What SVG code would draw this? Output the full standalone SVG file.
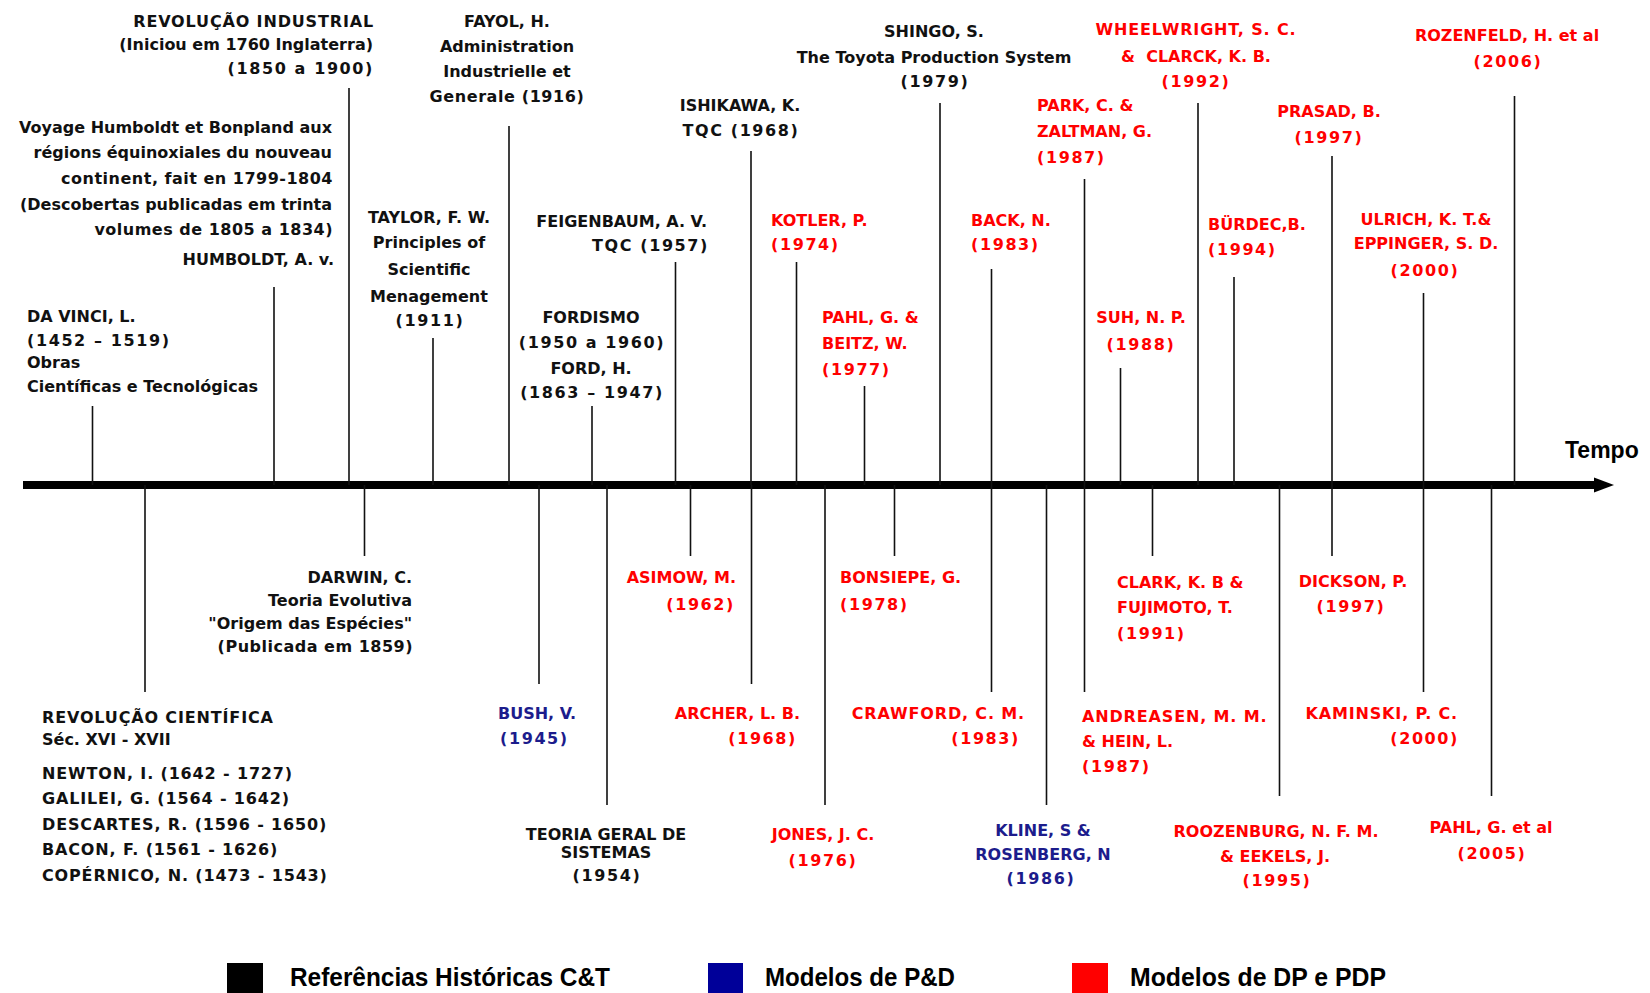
<svg xmlns="http://www.w3.org/2000/svg" width="1650" height="993" viewBox="0 0 1650 993">
<style>
text{font-family:"DejaVu Sans","Liberation Sans",sans-serif;font-size:16px;font-weight:bold;fill:#111}
.r text,text.r{fill:#ff0000}
.b text,text.b{fill:#1c1c8c}
.m{text-anchor:middle}
.e{text-anchor:end}
.y{letter-spacing:1.6px}
.w{letter-spacing:0.85px}
.v{stroke:#111;stroke-width:1.6;fill:none}
text.lg{font-family:"Liberation Sans",Arial,sans-serif;font-size:25px;font-weight:bold;fill:#000}
</style>
<rect width="1650" height="993" fill="#fff"/>
<g id="connectors">
<rect x="23" y="481" width="1574" height="8" fill="#000"/>
<polygon points="1594,477.5 1614,485 1594,492.5" fill="#000"/>
<path class="v" d="M92.5 406V485M274 287V485M349 88V485M433 338V485M509 126V485M592 406V485M675.5 262V485M751 151V485M796.5 262V485M864.5 386V485M940 103V485M991.5 269V485M1084.5 179V485M1120.5 368V485M1198 103V485M1234 277V485M1332 156V485M1423.5 293V485M1514.5 96V485"/>
<path class="v" d="M145 485V692M364.5 485V556M539 485V684M607 485V805M690.5 485V556M751.5 485V684M825 485V805M894.5 485V556M991.5 485V692M1046.5 485V805M1084.5 485V692M1152.5 485V556M1279.5 485V796M1332 485V556M1423.5 485V692M1491.5 485V796"/>
</g>
<g id="tempo"><text x="1565" y="458" style="font-family:'Liberation Sans',Arial,sans-serif;font-size:23px;font-weight:bold;fill:#000">Tempo</text></g>
<g id="rev-industrial"><text class="e w" x="374" y="27">REVOLUÇÃO INDUSTRIAL</text><text class="e" x="373" y="50">(Iniciou em 1760 Inglaterra)</text><text class="e y" x="374" y="74">(1850 a 1900)</text></g>
<g id="fayol"><text class="m" x="507" y="27">FAYOL, H.</text><text class="m" x="507" y="52">Administration</text><text class="m" x="507" y="77">Industrielle et</text><text class="m" x="507" y="102" style="letter-spacing:0.6px">Generale (1916)</text></g>
<g id="humboldt"><text class="e" x="332" y="133">Voyage Humboldt et Bonpland aux</text><text class="e" x="332" y="158">régions équinoxiales du nouveau</text><text class="e" x="333" y="184" style="letter-spacing:0.5px">continent, fait en 1799-1804</text><text class="e" x="332" y="210">(Descobertas publicadas em trinta</text><text class="e" x="333" y="235" style="letter-spacing:0.5px">volumes de 1805 a 1834)</text><text class="e" x="334" y="265">HUMBOLDT, A. v.</text></g>
<g id="taylor"><text class="m" x="429" y="223">TAYLOR, F. W.</text><text class="m" x="429" y="248">Principles of</text><text class="m" x="429" y="275">Scientific</text><text class="m" x="429" y="302">Menagement</text><text class="m y" x="430" y="326">(1911)</text></g>
<g id="davinci"><text x="27" y="322">DA VINCI, L.</text><text class="y" x="27" y="346">(1452 – 1519)</text><text x="27" y="368">Obras</text><text x="27" y="392">Científicas e Tecnológicas</text></g>
<g id="feigenbaum"><text class="e" x="707" y="227">FEIGENBAUM, A. V.</text><text class="e y" x="709" y="251">TQC (1957)</text></g>
<g id="ishikawa"><text class="m" x="740" y="111">ISHIKAWA, K.</text><text class="m y" x="741" y="136">TQC (1968)</text></g>
<g id="fordismo"><text class="m" x="591" y="323">FORDISMO</text><text class="m y" x="592" y="348">(1950 a 1960)</text><text class="m" x="591" y="374">FORD, H.</text><text class="m y" x="592" y="398">(1863 – 1947)</text></g>
<g id="shingo"><text class="m" x="934" y="37">SHINGO, S.</text><text class="m" x="934" y="63">The Toyota Production System</text><text class="m y" x="935" y="87">(1979)</text></g>
<g id="kotler" class="r"><text x="771" y="226">KOTLER, P.</text><text class="y" x="771" y="250">(1974)</text></g>
<g id="pahl-beitz" class="r"><text x="822" y="323">PAHL, G. &amp;</text><text x="822" y="349">BEITZ, W.</text><text class="y" x="822" y="375">(1977)</text></g>
<g id="back" class="r"><text x="971" y="226">BACK, N.</text><text class="y" x="971" y="250">(1983)</text></g>
<g id="park" class="r"><text x="1037" y="111">PARK, C. &amp;</text><text x="1037" y="137">ZALTMAN, G.</text><text class="y" x="1037" y="163">(1987)</text></g>
<g id="wheelwright" class="r"><text class="m w" x="1196" y="35">WHEELWRIGHT, S. C.</text><text class="m" x="1196" y="62" xml:space="preserve">&amp;  CLARCK, K. B.</text><text class="m y" x="1196" y="87">(1992)</text></g>
<g id="suh" class="r"><text class="m" x="1141" y="323">SUH, N. P.</text><text class="m y" x="1141" y="350">(1988)</text></g>
<g id="burdek" class="r"><text x="1208" y="230">BÜRDEC,B.</text><text class="y" x="1208" y="255">(1994)</text></g>
<g id="prasad" class="r"><text class="m" x="1329" y="117">PRASAD, B.</text><text class="m y" x="1329" y="143">(1997)</text></g>
<g id="ulrich" class="r"><text class="m" x="1426" y="225">ULRICH, K. T.&amp;</text><text class="m" x="1426" y="249">EPPINGER, S. D.</text><text class="m y" x="1425" y="276">(2000)</text></g>
<g id="rozenfeld" class="r"><text class="m" x="1507" y="41">ROZENFELD, H. et al</text><text class="m y" x="1508" y="67">(2006)</text></g>
<g id="rev-cientifica"><text class="w" x="42" y="723">REVOLUÇÃO CIENTÍFICA</text><text x="42" y="745">Séc. XVI - XVII</text><text class="w" x="42" y="779">NEWTON, I. (1642 - 1727)</text><text class="w" x="42" y="804">GALILEI, G. (1564 - 1642)</text><text class="w" x="42" y="830">DESCARTES, R. (1596 - 1650)</text><text class="w" x="42" y="855">BACON, F. (1561 - 1626)</text><text class="w" x="42" y="881">COPÉRNICO, N. (1473 - 1543)</text></g>
<g id="darwin"><text class="e" x="412" y="583">DARWIN, C.</text><text class="e" x="412" y="606">Teoria Evolutiva</text><text class="e" x="412" y="629">"Origem das Espécies"</text><text class="e" x="413" y="652" style="letter-spacing:0.5px">(Publicada em 1859)</text></g>
<g id="bush" class="b"><text x="498" y="719">BUSH, V.</text><text class="y" x="500" y="744">(1945)</text></g>
<g id="teoria"><text class="m" x="606" y="840">TEORIA GERAL DE</text><text class="m" x="606" y="858">SISTEMAS</text><text class="m y" x="607" y="881">(1954)</text></g>
<g id="asimow" class="r"><text class="e" x="736" y="583">ASIMOW, M.</text><text class="e y" x="735" y="610">(1962)</text></g>
<g id="archer" class="r"><text class="e" x="800" y="719">ARCHER, L. B.</text><text class="e y" x="797" y="744">(1968)</text></g>
<g id="jones" class="r"><text class="m" x="823" y="840">JONES, J. C.</text><text class="m y" x="823" y="866">(1976)</text></g>
<g id="bonsiepe" class="r"><text x="840" y="583">BONSIEPE, G.</text><text class="y" x="840" y="610">(1978)</text></g>
<g id="crawford" class="r"><text class="e w" x="1025" y="719">CRAWFORD, C. M.</text><text class="e y" x="1020" y="744">(1983)</text></g>
<g id="kline" class="b"><text class="m" x="1043" y="836">KLINE, S &amp;</text><text class="m" x="1043" y="860">ROSENBERG, N</text><text class="m y" x="1041" y="884">(1986)</text></g>
<g id="andreasen" class="r"><text class="w" x="1082" y="722">ANDREASEN, M. M.</text><text x="1082" y="747">&amp; HEIN, L.</text><text class="y" x="1082" y="772">(1987)</text></g>
<g id="clark" class="r"><text x="1117" y="588">CLARK, K. B &amp;</text><text x="1117" y="613">FUJIMOTO, T.</text><text class="y" x="1117" y="639">(1991)</text></g>
<g id="roozenburg" class="r"><text class="m" x="1276" y="837">ROOZENBURG, N. F. M.</text><text class="m" x="1275" y="862">&amp; EEKELS, J.</text><text class="m y" x="1277" y="886">(1995)</text></g>
<g id="dickson" class="r"><text class="m" x="1353" y="587">DICKSON, P.</text><text class="m y" x="1351" y="612">(1997)</text></g>
<g id="kaminski" class="r"><text class="e w" x="1458" y="719">KAMINSKI, P. C.</text><text class="e y" x="1459" y="744">(2000)</text></g>
<g id="pahl-etal" class="r"><text class="m" x="1491" y="833">PAHL, G. et al</text><text class="m y" x="1492" y="859">(2005)</text></g>
<g id="legend">
<rect x="227" y="963" width="36" height="36" fill="#000"/>
<text class="lg" x="290" y="986" textLength="320" lengthAdjust="spacingAndGlyphs">Referências Históricas C&amp;T</text>
<rect x="708" y="963" width="35" height="36" fill="#000099"/>
<text class="lg" x="765" y="986" textLength="190" lengthAdjust="spacingAndGlyphs">Modelos de P&amp;D</text>
<rect x="1072" y="963" width="36" height="36" fill="#ff0000"/>
<text class="lg" x="1130" y="986" textLength="256" lengthAdjust="spacingAndGlyphs">Modelos de DP e PDP</text>
</g>
</svg>
